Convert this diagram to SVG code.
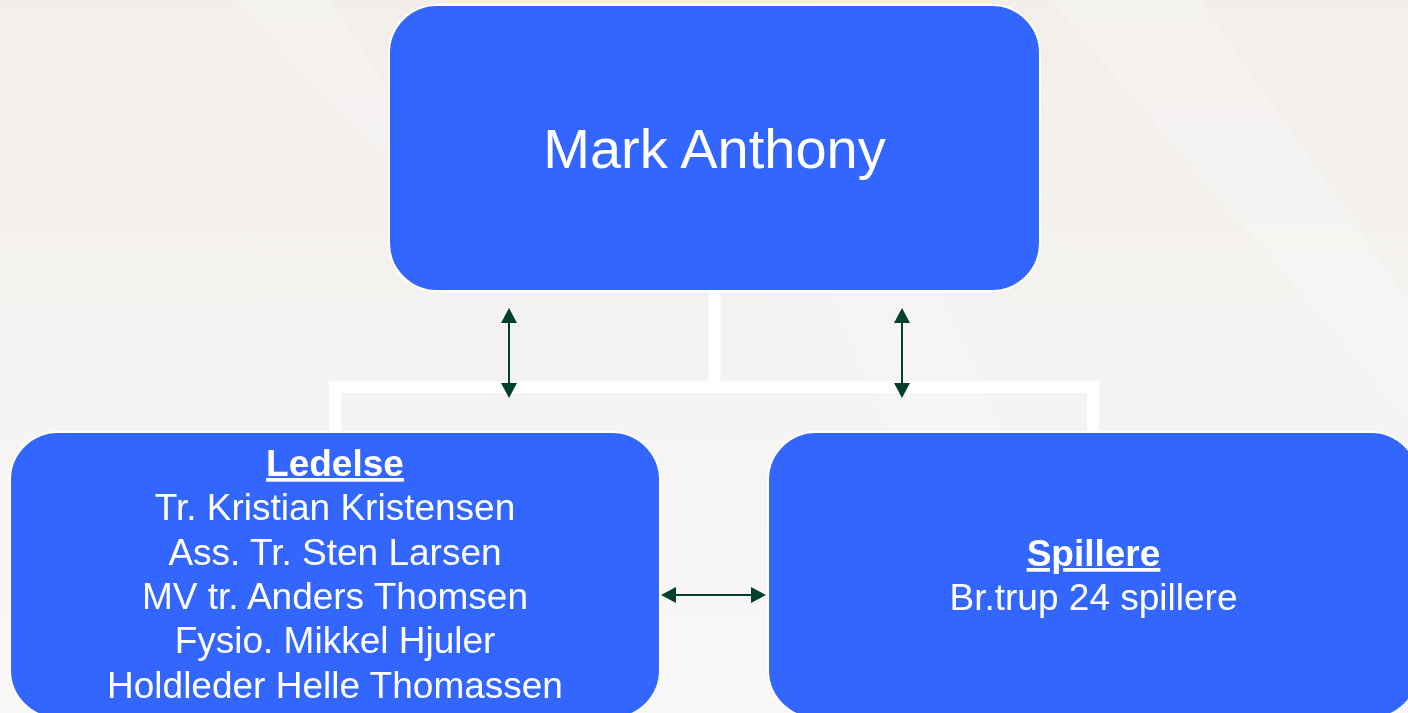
<svg xmlns="http://www.w3.org/2000/svg" width="1408" height="713" viewBox="0 0 1408 713">
  <defs>
    <linearGradient id="bg" x1="0" y1="0" x2="0" y2="1">
      <stop offset="0" stop-color="#f1eeeb"/>
      <stop offset="1" stop-color="#f9f8f7"/>
    </linearGradient>
    <marker id="arr" viewBox="0 0 15 16" refX="0" refY="8" markerWidth="15" markerHeight="16" markerUnits="userSpaceOnUse" orient="auto-start-reverse">
      <path d="M0,0 L15,8 L0,16 z" fill="#00402c"/>
    </marker>
    <style>
      .box { fill: #3366ff; stroke: #ffffff; stroke-width: 2; }
      .txt { font-family: "Liberation Sans", Arial, sans-serif; fill: #ffffff; text-anchor: middle; }
      .title { font-size: 56px; }
      .body { font-size: 37px; }
      .head { font-size: 37px; font-weight: bold; text-decoration: underline; }
      .elbow { fill: none; stroke: #ffffff; stroke-width: 12; }
      .arrow { stroke: #00402c; stroke-width: 2; fill: none; }
    </style>
  </defs>
  <rect x="0" y="0" width="1408" height="713" fill="url(#bg)"/>
  <g opacity="0.45" fill="#ffffff">
    <path d="M700,0 L820,0 L1120,713 L1010,713 z" opacity="0.4"/>
    <path d="M1050,0 L1200,0 L1408,300 L1408,420 z" opacity="0.5"/>
    <path d="M230,0 L330,0 L420,140 L380,150 z" opacity="0.5"/>
  </g>
  <g id="connectors">
    <path class="elbow" d="M714.5,291 V387 M335,432 V387 H1093 V432"/>
    <line class="arrow" x1="509" y1="323" x2="509" y2="383" marker-start="url(#arr)" marker-end="url(#arr)"/>
    <line class="arrow" x1="902" y1="323" x2="902" y2="383" marker-start="url(#arr)" marker-end="url(#arr)"/>
    <line class="arrow" x1="676" y1="595" x2="751" y2="595" marker-start="url(#arr)" marker-end="url(#arr)"/>
  </g>
  <g id="node-top">
    <rect class="box" x="389" y="5" width="651" height="286" rx="48" ry="48"/>
    <text class="txt title" x="714.5" y="168">Mark Anthony</text>
  </g>
  <g id="node-ledelse">
    <rect class="box" x="10" y="432" width="650" height="286" rx="48" ry="48"/>
    <text class="txt head" x="335" y="476">Ledelse</text>
    <text class="txt body" x="335" y="520">Tr. Kristian Kristensen</text>
    <text class="txt body" x="335" y="565">Ass. Tr. Sten Larsen</text>
    <text class="txt body" x="335" y="609">MV tr. Anders Thomsen</text>
    <text class="txt body" x="335" y="653">Fysio. Mikkel Hjuler</text>
    <text class="txt body" x="335" y="698">Holdleder Helle Thomassen</text>
  </g>
  <g id="node-spillere">
    <rect class="box" x="768" y="432" width="651" height="286" rx="48" ry="48"/>
    <text class="txt head" x="1093.5" y="566">Spillere</text>
    <text class="txt body" x="1093.5" y="610">Br.trup 24 spillere</text>
  </g>
</svg>
